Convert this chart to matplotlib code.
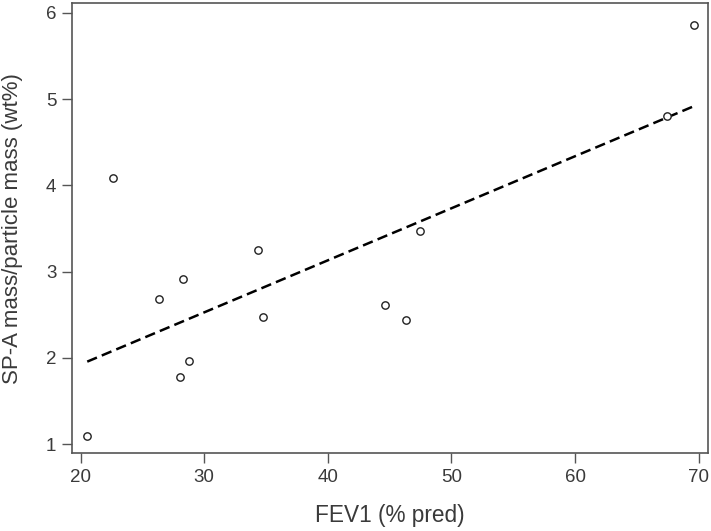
import numpy as np
import matplotlib
matplotlib.use("Agg")
import matplotlib.pyplot as plt

# FEV1 (% pred) vs SP-A mass / particle mass (wt%)
fev1 = [20.53, 22.64, 26.36, 28.25, 28.06, 28.79, 34.32, 34.72, 44.64, 46.34, 47.45, 69.64, 67.46]
spa = [1.10, 4.09, 2.68, 2.92, 1.78, 1.97, 3.25, 2.48, 2.61, 2.44, 3.47, 5.86, 4.80]
xticks = [20, 30, 40, 50, 60, 70]
yticks = [1, 2, 3, 4, 5, 6]

FG = "#3a3a3a"
plt.rcParams.update({
    "font.family": ["Liberation Sans", "DejaVu Sans"],
    "text.color": FG, "axes.labelcolor": FG,
    "xtick.color": "#555555", "ytick.color": "#555555",
    "xtick.labelcolor": FG, "ytick.labelcolor": FG,
})

fig = plt.figure(figsize=(7.11, 5.31), dpi=100)
ax = fig.add_axes([0.1008, 0.1460, 0.8945, 0.8478])

ax.plot(fev1, spa, "o", ms=5.3, mfc="white", mec="#222222", mew=1.0, zorder=3)

# least-squares fit over the observed FEV1 range
slope, icpt = np.polyfit(fev1, spa, 1)
xl = np.array([min(fev1), max(fev1)])
ax.plot(xl, icpt + slope * xl, color="black", lw=1.8, dashes=(4.2, 2.1), zorder=2)

ax.set_xlim(19.27, 70.73)
ax.set_ylim(0.893, 6.109)
ax.set_xticks(xticks)
ax.set_yticks(yticks)
ax.tick_params(direction="out", length=7, width=1.0, labelsize=13.5, pad=4)
for s in ax.spines.values():
    s.set_color("#555555")
    s.set_linewidth(1.2)

ax.set_xlabel("FEV1 (% pred)", fontsize=16.3)
ax.set_ylabel("SP-A mass/particle mass (wt%)", fontsize=16)
ax.xaxis.set_label_coords(0.5, -0.113)
ax.yaxis.set_label_coords(-0.077, 0.5)

fig.savefig("out.png", dpi=100)
